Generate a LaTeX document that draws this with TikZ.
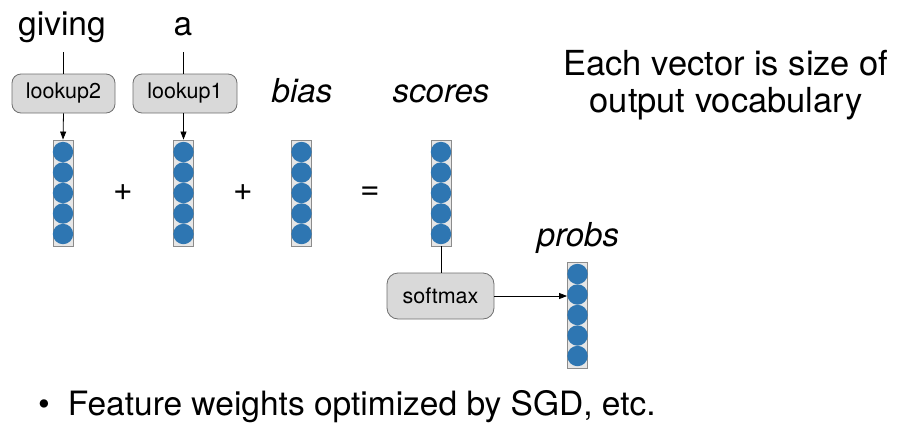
\documentclass[tikz,border=0pt]{standalone}
\usepackage{fontspec}
\setmainfont{TeX Gyre Heros}
\usetikzlibrary{arrows.meta}
\definecolor{dotblue}{HTML}{2E76B2}
\definecolor{boxfill}{HTML}{D9D9D9}
\definecolor{boxline}{HTML}{6F6F6F}
\definecolor{colfill}{HTML}{E6E6E6}
\definecolor{colline}{HTML}{8C8C8C}
\tikzset{
  big/.style={font=\fontsize{33.5}{37}\selectfont},
  word/.style={big, inner sep=0pt, anchor=base},
  label/.style={inner sep=0pt, anchor=base, font=\fontsize{33}{36}\selectfont\itshape},
  opbox/.style={draw=boxline, line width=0.8pt, fill=boxfill, rounded corners=9pt,
    font=\fontsize{21.5}{24}\selectfont, inner sep=0pt},
  colbox/.style={draw=colline, line width=0.9pt, fill=colfill, inner sep=0pt,
    minimum width=20pt, minimum height=106pt},
  conn/.style={line width=0.8pt},
  arr/.style={conn, -{Triangle[length=8pt,width=6pt]}},
}
% a column of five blue units with its frame; #1 name, #2 centre x, #3 top y
\newcommand{\unitcol}[3]{%
  \node[colbox] (#1) at (#2,{#3+53}) {};
  \foreach \k in {0,...,4}
    \fill[dotblue] (#2,{#3+12+20.5*\k}) circle (10.2pt);
}
\begin{document}
\begin{tikzpicture}[x=1pt,y=-1pt]
\useasboundingbox (0,0) rectangle (900,429);

% input words and their lookups
\node[word] (giving) at (62,35) {giving};
\node[word] (a) at (183,35) {a};
\node[opbox, minimum width=103pt, minimum height=39pt] (lookup2) at (63.5,93.5) {lookup2};
\node[opbox, minimum width=104pt, minimum height=39pt] (lookup1) at (185,93.5) {lookup1};

% feature columns, bias and scores
\unitcol{v2}{63}{140}
\unitcol{v1}{183.5}{140}
\unitcol{bias}{301.5}{140}
\unitcol{scores}{441}{140}
\unitcol{probs}{577.5}{262}

\node[label] (biaslabel) at (302,102) {bias};
\node[label] (scoreslabel) at (441,102) {scores};
\node[label] (probslabel) at (578,246) {probs};

\node[big] (plusa) at (123,193) {+};
\node[big] (plusb) at (243,193) {+};
\node[big] (equals) at (370,193) {=};

% softmax
\node[opbox, minimum width=107pt, minimum height=46pt, rounded corners=11pt] (softmax) at (440.5,296) {softmax};

% connector end points under the words
\coordinate (givingfoot) at (lookup2.north |- giving.base);
\coordinate (afoot) at (v1.north |- a.base);

% connectors
\draw[conn] (givingfoot) ++(0,17) -- (lookup2.north);
\draw[arr] (lookup2.south) -- (v2.north);
\draw[conn] (afoot) ++(0,17) -- (v1.north |- lookup1.north);
\draw[arr] (v1.north |- lookup1.south) -- (v1.north);
\draw[conn] (scores.south) -- (scores.south |- softmax.north);
\draw[arr] (softmax.east) -- (probs.west |- softmax.east);

% note
\node[font=\fontsize{34.5}{37}\selectfont, align=center] (note) at (726,85) {Each vector is size of\\output vocabulary};

% bullet
\node[big, anchor=base west, inner sep=0pt] (bullet) at (38,415) {\textbullet\hspace{18pt}Feature weights optimized by SGD, etc.};
\end{tikzpicture}
\end{document}
